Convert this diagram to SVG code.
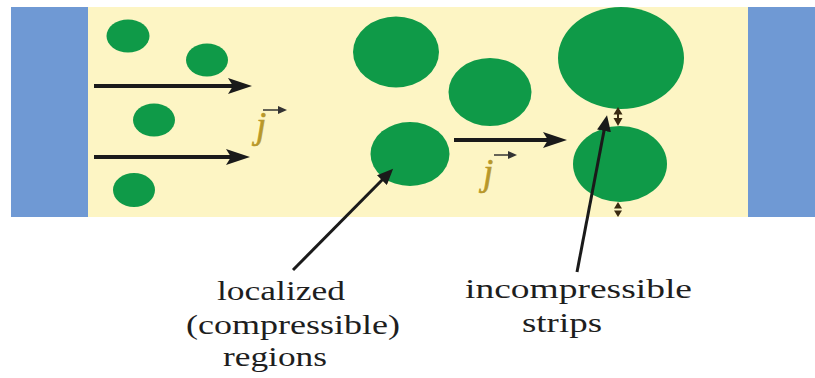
<svg xmlns="http://www.w3.org/2000/svg" width="815" height="378" viewBox="0 0 815 378">
  <style>
    .electrode { fill: #6f99d4; }
    .channel { fill: #fdf5c4; }
    .dot { fill: #0f9a48; }
    .flow { stroke: #1a1a1a; stroke-width: 4; fill: none; }
    .ptr { stroke: #1a1a1a; stroke-width: 3; fill: none; }
    .vec { stroke: #333; stroke-width: 1.5; fill: none; }
    .lbl { font-family: 'Times New Roman', 'Liberation Serif', Times, serif; font-size: 27px; fill: #1e1e1e; }
    .jsym { font-family: 'Times New Roman', 'Liberation Serif', Times, serif; font-style: italic; font-size: 37px; fill: #b8982a; stroke: #b8982a; stroke-width: 0.6; }
    .dbl { fill: #3a2a10; }
  </style>
  <defs>
    <marker id="bighead" markerUnits="userSpaceOnUse" markerWidth="26" markerHeight="18" refX="12" refY="9" orient="auto">
      <path d="M0,1 L24,9 L0,17 L5,9 z" fill="#1a1a1a"/>
    </marker>
    <marker id="ptrhead" markerUnits="userSpaceOnUse" markerWidth="18" markerHeight="14" refX="8" refY="7" orient="auto">
      <path d="M0,0 L16,7 L0,14 z" fill="#1a1a1a"/>
    </marker>
    <marker id="vechead" markerUnits="userSpaceOnUse" markerWidth="10" markerHeight="8" refX="3" refY="4" orient="auto">
      <path d="M0,0 L9,4 L0,8 z" fill="#333"/>
    </marker>
  </defs>

  <rect width="815" height="378" fill="#ffffff"/>

  <g id="channel">
    <rect class="channel" x="88" y="7" width="660" height="210"/>
  </g>
  <g id="left-electrode">
    <rect class="electrode" x="11" y="7" width="77" height="210"/>
  </g>
  <g id="right-electrode">
    <rect class="electrode" x="748" y="7" width="67" height="210"/>
  </g>

  <g id="small-regions">
    <ellipse class="dot" cx="128" cy="36" rx="21.5" ry="16.5"/>
    <ellipse class="dot" cx="207" cy="60" rx="21" ry="16.5"/>
    <ellipse class="dot" cx="154" cy="120" rx="21" ry="16.5"/>
    <ellipse class="dot" cx="134" cy="190" rx="21" ry="17"/>
  </g>
  <g id="medium-regions">
    <ellipse class="dot" cx="396" cy="52" rx="43" ry="35.5"/>
    <ellipse class="dot" cx="490" cy="92" rx="41.5" ry="34"/>
    <ellipse class="dot" cx="410" cy="154" rx="39.5" ry="32"/>
  </g>
  <g id="large-regions">
    <ellipse class="dot" cx="621" cy="58" rx="63" ry="51"/>
    <ellipse class="dot" cx="620" cy="164" rx="47" ry="38"/>
  </g>

  <g id="connectors">
    <line class="flow" x1="94" y1="86" x2="240" y2="86" marker-end="url(#bighead)"/>
    <line class="flow" x1="94" y1="157" x2="238" y2="157" marker-end="url(#bighead)"/>
    <line class="flow" x1="454" y1="140" x2="555" y2="140" marker-end="url(#bighead)"/>
    <line class="ptr" x1="293" y1="270" x2="387.5" y2="174.5" marker-end="url(#ptrhead)"/>
    <line class="ptr" x1="577" y1="272" x2="605.5" y2="123" marker-end="url(#ptrhead)"/>
  </g>

  <g id="gap-markers">
    <polygon class="dbl" points="618,107 622.5,114.5 613.5,114.5"/>
    <polygon class="dbl" points="618,126 622.5,118 613.5,118"/>
    <rect class="dbl" x="617" y="113" width="2" height="6"/>
    <polygon class="dbl" points="618,202 622,208.5 614,208.5"/>
    <polygon class="dbl" points="618,217 622,210.5 614,210.5"/>
  </g>

  <g id="current-label-1">
    <text class="jsym" x="256" y="138">j</text>
    <line class="vec" x1="263" y1="110" x2="281" y2="110" marker-end="url(#vechead)"/>
  </g>
  <g id="current-label-2">
    <text class="jsym" x="483" y="185">j</text>
    <line class="vec" x1="494" y1="155" x2="511" y2="155" marker-end="url(#vechead)"/>
  </g>

  <g id="label-localized">
    <text class="lbl" x="217" y="300" textLength="128" lengthAdjust="spacingAndGlyphs">localized</text>
    <text class="lbl" x="186" y="334" textLength="214" lengthAdjust="spacingAndGlyphs">(compressible)</text>
    <text class="lbl" x="223" y="366" textLength="104" lengthAdjust="spacingAndGlyphs">regions</text>
  </g>
  <g id="label-incompressible">
    <text class="lbl" x="465" y="298" textLength="227" lengthAdjust="spacingAndGlyphs">incompressible</text>
    <text class="lbl" x="522" y="332" textLength="80" lengthAdjust="spacingAndGlyphs">strips</text>
  </g>
</svg>
